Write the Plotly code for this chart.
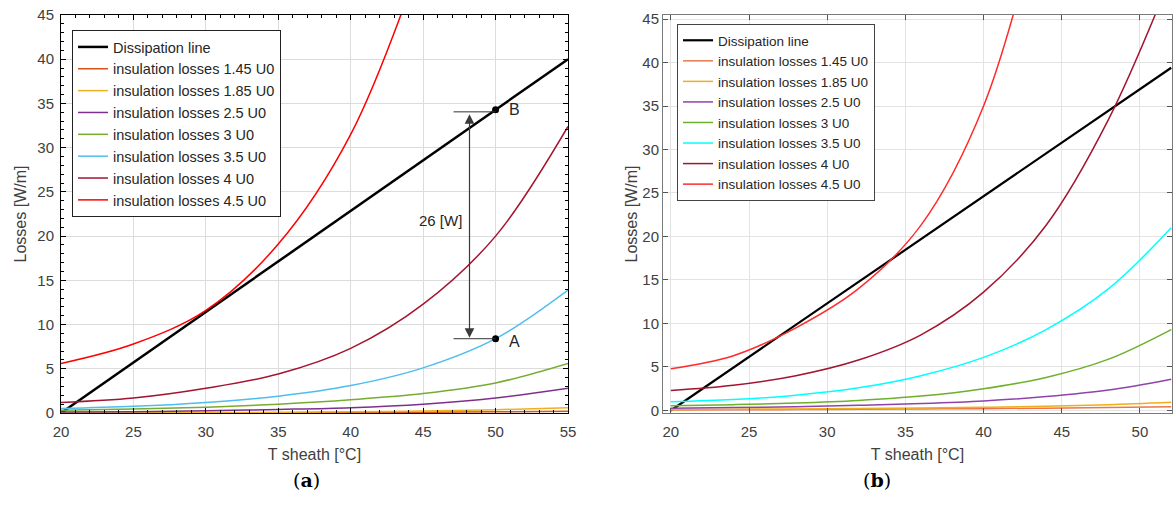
import plotly.graph_objects as go

W, H = 1174, 522

# ---------------- data: panel (a) ----------------
T_a = [20, 25, 30, 35, 40, 45, 50, 55]
diss_T_a = [20, 55]
diss_L_a = [0, 40]
loss_a = {
    "1.45": [0.01, 0.015, 0.02, 0.03, 0.05, 0.08, 0.13, 0.2],
    "1.85": [0.02, 0.03, 0.05, 0.08, 0.13, 0.22, 0.37, 0.6],
    "2.5": [0.1, 0.15, 0.25, 0.4, 0.6, 1.0, 1.7, 2.8],
    "3": [0.3, 0.45, 0.65, 1.0, 1.5, 2.2, 3.4, 5.6],
    "3.5": [0.5, 0.75, 1.2, 1.9, 3.1, 5.1, 8.4, 13.9],
    "4": [1.2, 1.7, 2.8, 4.4, 7.3, 12.3, 20.0, 32.4],
}
T_a45 = [20, 25, 30, 35, 40, 45]
loss_a45 = [5.6, 7.8, 11.6, 19.1, 31.5, 52.0]

# ---------------- data: panel (b) ----------------
T_b = [20, 24, 28, 32, 36, 40, 44, 48, 52]
diss_T_b = [20, 52]
diss_L_b = [0, 39.4]
loss_b = {
    "1.45": [0.05, 0.07, 0.10, 0.13, 0.17, 0.21, 0.27, 0.34, 0.43],
    "1.85": [0.10, 0.14, 0.18, 0.23, 0.29, 0.37, 0.48, 0.66, 0.95],
    "2.5": [0.25, 0.33, 0.44, 0.60, 0.80, 1.10, 1.60, 2.35, 3.6],
    "3": [0.55, 0.67, 0.85, 1.15, 1.65, 2.5, 3.8, 5.9, 9.3],
    "3.5": [1.0, 1.25, 1.75, 2.6, 4.0, 6.1, 9.3, 14.0, 21.0],
    "4": [2.3, 2.9, 4.0, 5.8, 8.7, 13.6, 21.3, 33.5, 50.0],
}
T_b45 = [20, 24, 28, 32, 36, 40, 44]
loss_b45 = [4.8, 6.3, 9.5, 14.0, 21.3, 35.0, 60.0]

# annotation values (panel a)
B_T, B_L = 50, 34.3
A_T, A_L = 50, 8.4
arrow_T = 48.2
tick_start_T = 47.1
diff_label = "26 [W]"

labels = ["1.45", "1.85", "2.5", "3", "3.5", "4", "4.5"]
colors_a = ["#D95319", "#EDB120", "#7E2F8E", "#77AC30", "#4DBEEE", "#A2142F", "#FF0000"]
colors_b = ["#E8784A", "#F0AE1A", "#8E44A8", "#6DB02A", "#00FFFF", "#A2142F", "#FF2A2A"]

fig = go.Figure()

# panel (a)
fig.add_trace(go.Scatter(x=diss_T_a, y=diss_L_a, mode="lines", name="Dissipation line",
                         line=dict(color="black", width=2.5), legend="legend"))
for lab, col in zip(labels, colors_a):
    if lab == "4.5":
        xs, ys = T_a45, loss_a45
    else:
        xs, ys = T_a, loss_a[lab]
    fig.add_trace(go.Scatter(x=xs, y=ys, mode="lines", name=f"insulation losses {lab} U0",
                             line=dict(color=col, width=1.5, shape="spline", smoothing=1.0),
                             legend="legend"))
fig.add_trace(go.Scatter(x=[B_T, A_T], y=[B_L, A_L], mode="markers", showlegend=False,
                         marker=dict(color="black", size=7)))

# panel (b)
fig.add_trace(go.Scatter(x=diss_T_b, y=diss_L_b, mode="lines", name="Dissipation line",
                         line=dict(color="black", width=2.2), legend="legend2",
                         xaxis="x2", yaxis="y2"))
for lab, col in zip(labels, colors_b):
    if lab == "4.5":
        xs, ys = T_b45, loss_b45
    else:
        xs, ys = T_b, loss_b[lab]
    fig.add_trace(go.Scatter(x=xs, y=ys, mode="lines", name=f"insulation losses {lab} U0",
                             line=dict(color=col, width=1.5, shape="spline", smoothing=1.0),
                             legend="legend2", xaxis="x2", yaxis="y2"))

font_main = "Liberation Sans, Arial, sans-serif"
tickcol = "#404040"

ax_common = dict(showgrid=True, ticks="inside", mirror="ticks", showline=True, automargin=False,
                 tickfont=dict(family=font_main, size=15, color=tickcol),
                 title_font=dict(family=font_main, size=16, color=tickcol),
                 zeroline=False, dtick=5)

fig.update_layout(
    width=W, height=H, margin=dict(l=0, r=0, t=0, b=0, autoexpand=False),
    paper_bgcolor="white", plot_bgcolor="white",
    xaxis=dict(domain=[61 / W, 568 / W], range=[20, 55], anchor="y",
               linecolor="black", gridcolor="#dcdcdc", tickcolor="black", ticklen=5,
               ticklabelstandoff=5,
               minor=dict(ticks="inside", ticklen=3, dtick=1, tickcolor="black", showgrid=False),
               title=dict(text="T sheath [°C]", standoff=9), **ax_common),
    yaxis=dict(domain=[1 - 413 / H, 1 - 15 / H], range=[0, 45], anchor="x",
               linecolor="black", gridcolor="#dcdcdc", tickcolor="black", ticklen=5,
               ticklabelstandoff=3,
               minor=dict(ticks="inside", ticklen=3, dtick=1, tickcolor="black", showgrid=False),
               title=dict(text="Losses [W/m]", standoff=6), **ax_common),
    xaxis2=dict(domain=[663 / W, 1172 / W], range=[19.5, 52.05], anchor="y2",
                linecolor="#7a7a7a", gridcolor="#e3e3e3", tickcolor="#555555", ticklen=5,
                ticklabelstandoff=5,
                title=dict(text="T sheath [°C]", standoff=9), **ax_common),
    yaxis2=dict(domain=[1 - 413 / H, 1 - 15 / H], range=[-0.29, 45.46], anchor="x2",
                linecolor="#7a7a7a", gridcolor="#e3e3e3", tickcolor="#555555", ticklen=5,
                title=dict(text="Losses [W/m]", standoff=0), **ax_common),
    legend=dict(x=72 / W, y=1 - 30 / H, xanchor="left", yanchor="top",
                bgcolor="white", bordercolor="#222222", borderwidth=1,
                font=dict(family=font_main, size=14.5, color="#262626"),
                tracegroupgap=0, itemwidth=30),
    legend2=dict(x=677 / W, y=1 - 24 / H, xanchor="left", yanchor="top",
                 bgcolor="white", bordercolor="#444444", borderwidth=1,
                 font=dict(family=font_main, size=13.5, color="#262626"),
                 tracegroupgap=0, itemwidth=30),
)

# annotations on panel (a)
fig.add_shape(type="line", xref="x", yref="y", x0=tick_start_T, x1=B_T, y0=B_L - 0.25, y1=B_L - 0.25,
              line=dict(color="#333333", width=1))
fig.add_shape(type="line", xref="x", yref="y", x0=tick_start_T, x1=A_T, y0=A_L, y1=A_L,
              line=dict(color="#333333", width=1))
fig.add_annotation(x=arrow_T, y=A_L + 0.1, ax=arrow_T, ay=B_L - 0.35, xref="x", yref="y",
                   axref="x", ayref="y", text="", showarrow=True, arrowhead=2, startarrowhead=2,
                   arrowside="end+start", arrowsize=1.6, arrowwidth=1.2, arrowcolor="#3a3a3a",
                   startarrowsize=1.6)
fig.add_annotation(x=arrow_T - 0.35, y=(A_L + B_L) / 2 + 0.4, xref="x", yref="y", text=diff_label,
                   showarrow=False, xanchor="right", font=dict(family=font_main, size=15, color="#262626"))
fig.add_annotation(x=B_T + 0.8, y=B_L, xref="x", yref="y", text="B", showarrow=False,
                   xanchor="left", font=dict(family=font_main, size=16, color="#262626"))
fig.add_annotation(x=A_T + 0.8, y=A_L - 0.3, xref="x", yref="y", text="A", showarrow=False,
                   xanchor="left", font=dict(family=font_main, size=16, color="#262626"))

# panel captions
fig.add_annotation(x=291 / W, y=1 - 480 / H, xref="paper", yref="paper", text="(<b>a</b>)",
                   showarrow=False, yanchor="middle",
                   font=dict(family="DejaVu Serif, serif", size=19, color="black"))
fig.add_annotation(x=893 / W, y=1 - 480 / H, xref="paper", yref="paper", text="(<b>b</b>)",
                   showarrow=False, yanchor="middle",
                   font=dict(family="DejaVu Serif, serif", size=19, color="black"))

fig.write_html("out.html")
